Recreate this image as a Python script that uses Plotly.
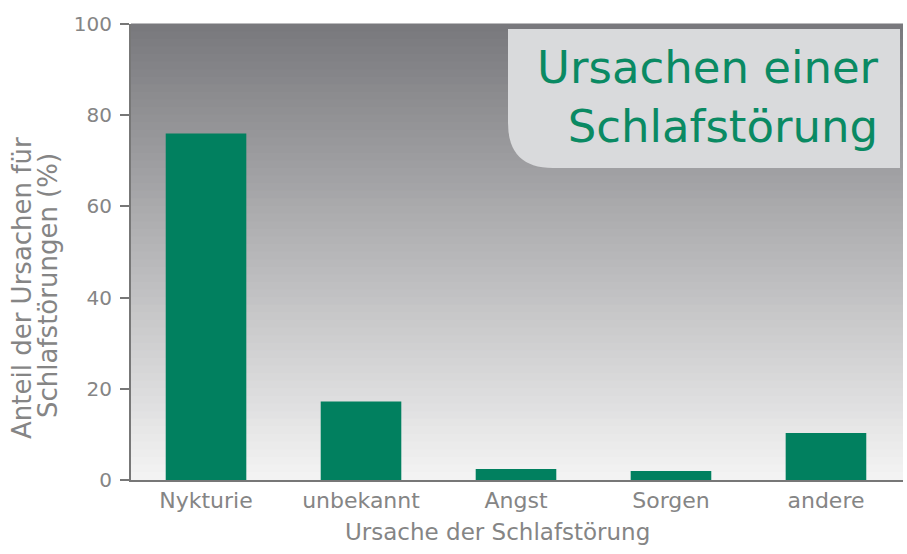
import plotly.graph_objects as go

categories = ["Nykturie", "unbekannt", "Angst", "Sorgen", "andere"]
values = [76, 17.2, 2.4, 2.0, 10.3]
y_ticks = [0, 20, 40, 60, 80, 100]

title_text = "Ursachen einer<br>Schlafstörung"
x_title = "Ursache der Schlafstörung"
y_title_1 = "Anteil der Ursachen für"
y_title_2 = "Schlafstörungen (%)"

W, H = 907, 554
ML, MR, MT, MB = 131, 4, 24, 74
PW, PH = W - ML - MR, H - MT - MB

FONT = "DejaVu Sans"
GREY = "#858585"
GREEN = "#01805f"

fig = go.Figure()
fig.add_trace(go.Bar(
    x=list(range(len(categories))), y=values,
    marker=dict(color=GREEN, line=dict(width=0)),
    width=0.52,
    hoverinfo="skip",
))

shapes = []
# vertical gradient background
n = 60
top = (121, 121, 125)
bot = (243, 243, 243)
for i in range(n):
    t = i / (n - 1)
    c = tuple(int(round(top[k] + (bot[k] - top[k]) * t)) for k in range(3))
    y1 = 1 - i / n
    y0 = 1 - (i + 1) / n
    shapes.append(dict(type="rect", xref="paper", yref="paper",
                       x0=0, x1=1, y0=y0 - 0.001, y1=y1 + 0.001,
                       fillcolor="rgb(%d,%d,%d)" % c, line=dict(width=0),
                       layer="below"))

def px_x(p):
    return (p - ML) / PW

def px_y(p):
    return (H - MB - p) / PH

# title box with rounded bottom-left corner
bx0, bx1, by0, by1 = px_x(508), px_x(900), px_y(168), px_y(29)
rx, ry = 45 / PW, 45 / PH
path = (f"M {bx0},{by1} L {bx1},{by1} L {bx1},{by0} L {bx0+rx},{by0} "
        f"Q {bx0},{by0} {bx0},{by0+ry} Z")
shapes.append(dict(type="path", xref="paper", yref="paper", path=path,
                   fillcolor="#d9dadc", line=dict(width=0), layer="above"))

annotations = [
    dict(text=title_text, xref="paper", yref="paper",
         x=px_x(881), y=px_y(97), xanchor="right", yanchor="middle",
         align="right", showarrow=False,
         font=dict(family=FONT, size=45, color="#0a8a63")),
    dict(text=x_title, xref="paper", yref="paper",
         x=px_x(497), y=px_y(532), xanchor="center", yanchor="middle",
         showarrow=False, font=dict(family=FONT, size=23, color=GREY)),
    dict(text=y_title_1, xref="paper", yref="paper",
         x=px_x(22), y=px_y(288), xanchor="center", yanchor="middle",
         textangle=-90, showarrow=False,
         font=dict(family=FONT, size=26, color=GREY)),
    dict(text=y_title_2, xref="paper", yref="paper",
         x=px_x(48), y=px_y(286), xanchor="center", yanchor="middle",
         textangle=-90, showarrow=False,
         font=dict(family=FONT, size=26, color=GREY)),
]

fig.update_layout(
    width=W, height=H,
    margin=dict(l=ML, r=MR, t=MT, b=MB, pad=0),
    paper_bgcolor="white", plot_bgcolor="rgba(0,0,0,0)",
    showlegend=False,
    shapes=shapes, annotations=annotations,
)
fig.update_xaxes(
    tickmode="array", tickvals=list(range(len(categories))), ticktext=categories,
    range=[-0.484, 4.497], showgrid=False, zeroline=False,
    showline=True, linecolor="#777777", linewidth=2, ticks="",
    tickfont=dict(family=FONT, size=22, color=GREY),
    fixedrange=True,
)
fig.update_yaxes(
    range=[0, 100], tickvals=y_ticks, showgrid=False, zeroline=False,
    showline=True, linecolor="#777777", linewidth=2,
    ticks="outside", ticklen=9, tickwidth=2, tickcolor="#777777",
    ticklabelstandoff=4,
    tickfont=dict(family=FONT, size=20, color=GREY),
    fixedrange=True,
)

fig.write_html("out.html", config={"displayModeBar": False},
               post_script="document.body.style.margin='0';")
